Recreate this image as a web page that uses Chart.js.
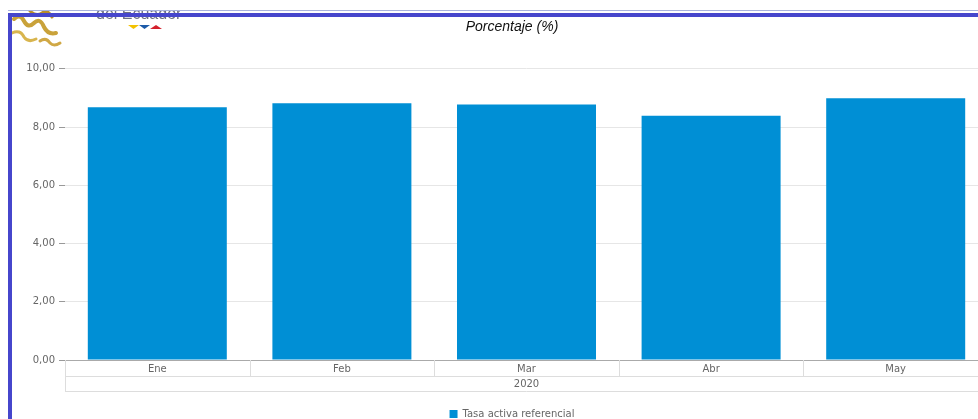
<!DOCTYPE html>
<html>
<head>
<meta charset="utf-8">
<script src="https://cdn.jsdelivr.net/npm/chart.js@4/dist/chart.umd.min.js"></script>
<style>
  html, body { margin: 0; padding: 0; overflow: hidden; background: #fff; }
  #wrap { position: relative; width: 978px; height: 419px; overflow: hidden; }
  #wrap canvas { position: absolute; left: 0; top: 0; }
  .deco { position: absolute; }
</style>
</head>
<body>
<div id="wrap">
  <canvas id="chart" width="1024" height="429" style="width:1024px;height:429px"></canvas>
  <!-- logo pieces at the top left, clipped at the top like the page -->
  <svg class="deco" style="left:0;top:11px" width="180" height="40">
    <g fill="none" stroke-linecap="round">
      <path d="M14 8 q6 -6 10 2 q4 8 10 2 q6 -6 10 4 q4 8 12 6" stroke="#c9a23a" stroke-width="4"/>
      <path d="M12 22 q8 -4 12 4 q4 6 12 2" stroke="#d8b54e" stroke-width="3"/>
      <path d="M30 0 q6 6 12 2 q6 -4 10 4" stroke="#b88d2a" stroke-width="3"/>
      <path d="M40 30 q6 -4 10 2 q4 4 10 0" stroke="#d0a845" stroke-width="3"/>
    </g>
    <text x="96" y="8" font-family="Liberation Sans, Arial" font-size="16" fill="#6d7183">del Ecuador</text>
    <polygon points="128,14 139,14 133.5,18" fill="#f3c200"/>
    <polygon points="139,14 150,14 144.5,18" fill="#1c5aa8"/>
    <polygon points="150,18 162,18 156,14" fill="#d4202c"/>
  </svg>
  <div class="deco" style="left:8px;top:10px;width:970px;height:1px;background:#a8b2dc"></div>
  <div class="deco" style="left:8px;top:13px;width:970px;height:4px;background:#4646cc"></div>
  <div class="deco" style="left:8px;top:13px;width:4px;height:406px;background:#4646cc"></div>
</div>
<script>
// data
const months   = ["Ene", "Feb", "Mar", "Abr", "May"];
const yearLbl  = "2020";
const seriesName = "Tasa activa referencial";
const tasaActiva = [8.68, 8.82, 8.77, 8.39, 8.99];
const yTicks   = [0, 2, 4, 6, 8, 10];

const barColor  = "#008fd5";
const labelGray = "#666666";

// draws the label cells under the axis and the year row
const axisTable = {
  id: "axisTable",
  afterDraw(chart) {
    const ctx = chart.ctx;
    const x = chart.scales.x;
    const top = x.top, mid = x.top + 16, bot = x.top + 31;
    const step = x.width / months.length;
    ctx.save();
    ctx.strokeStyle = "#dddddd";
    ctx.lineWidth = 1;
    ctx.beginPath();
    for (let k = 0; k <= months.length; k++) {
      const px = Math.round(x.left + k * step) + 0.5;
      ctx.moveTo(px, top);
      ctx.lineTo(px, k === 0 ? bot : mid);
    }
    ctx.moveTo(x.left, mid + 0.5); ctx.lineTo(x.right, mid + 0.5);
    ctx.moveTo(x.left, bot + 0.5); ctx.lineTo(x.right, bot + 0.5);
    ctx.stroke();
    ctx.fillStyle = labelGray;
    ctx.font = "10px 'DejaVu Sans'";
    ctx.textAlign = "center";
    ctx.textBaseline = "middle";
    ctx.fillText(yearLbl, (x.left + x.right) / 2, mid + 8);
    ctx.restore();
  }
};

new Chart(document.getElementById("chart"), {
  type: "bar",
  data: {
    labels: months,
    datasets: [{
      label: seriesName,
      data: tasaActiva,
      backgroundColor: barColor,
      categoryPercentage: 1,
      barPercentage: 0.753
    }]
  },
  options: {
    responsive: false,
    animation: false,
    layout: { padding: 0 },
    plugins: {
      title: {
        display: true,
        text: "Porcentaje (%)",
        color: "#111",
        font: { family: "'Liberation Sans'", size: 14, style: "italic", weight: "normal" },
        padding: { top: 19, bottom: 33 }
      },
      legend: {
        position: "bottom",
        labels: {
          boxWidth: 8, boxHeight: 8, padding: 18,
          color: labelGray,
          font: { family: "'DejaVu Sans'", size: 10 }
        }
      },
      tooltip: { enabled: false }
    },
    scales: {
      x: {
        grid: { display: false, drawTicks: false },
        border: { display: true, color: "#aaaaaa", width: 1 },
        ticks: { color: labelGray, padding: 3, font: { family: "'DejaVu Sans'", size: 10 } },
        afterFit(s) { s.height = 31; }
      },
      y: {
        min: 0, max: 10,
        afterBuildTicks(s) { s.ticks = yTicks.map(v => ({ value: v })); },
        grid: {
          color: c => c.tick && c.tick.value === 0 ? "#aaaaaa" : "#e6e6e6",
          tickColor: "#999999",
          tickLength: 6
        },
        border: { display: false },
        ticks: {
          color: labelGray,
          padding: 4,
          font: { family: "'DejaVu Sans'", size: 10 },
          callback: v => v.toFixed(2).replace(".", ",")
        },
        afterFit(s) { s.width = 65; }
      },
      // empty right-hand strip: the original chart runs past the window
      yR: {
        position: "right",
        grid: { display: false },
        border: { display: false },
        ticks: { display: false },
        afterFit(s) { s.width = 36; }
      }
    }
  },
  plugins: [axisTable]
});
</script>
</body>
</html>
